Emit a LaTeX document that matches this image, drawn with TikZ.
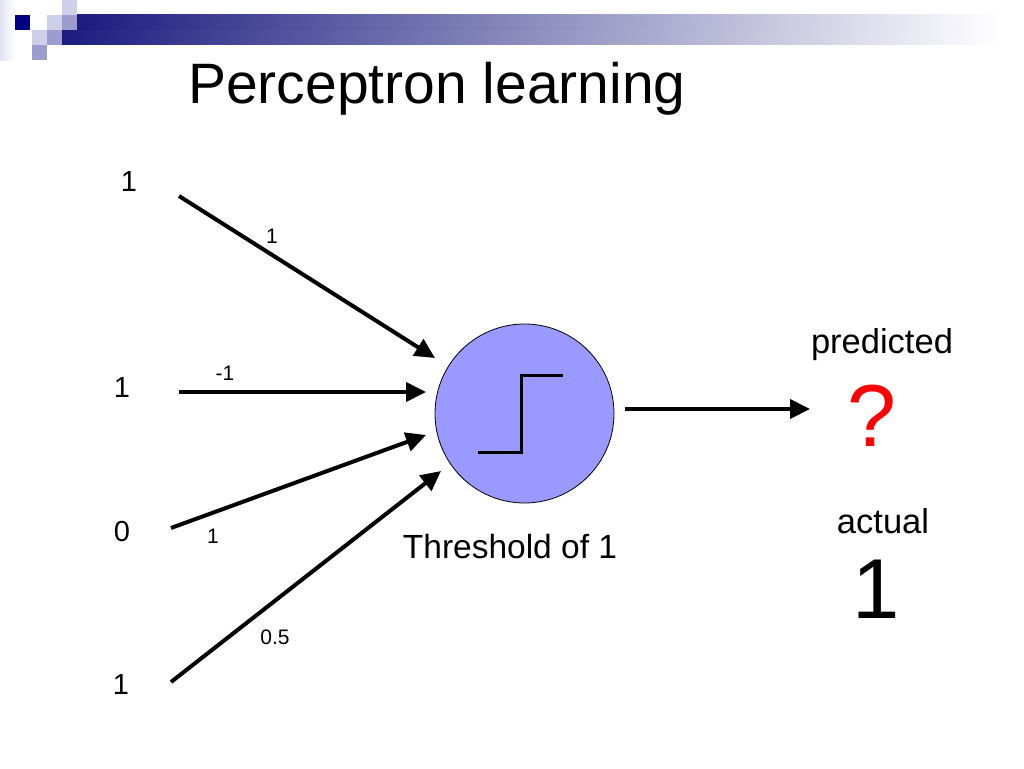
\documentclass[tikz,border=0pt]{standalone}
\usepackage{fontspec}
\setmainfont{Liberation Sans}
\usetikzlibrary{arrows.meta}
\definecolor{navy}{HTML}{1C1C80}
\definecolor{darksq}{HTML}{000080}
\definecolor{medsq}{HTML}{9C9CCE}
\definecolor{lightsq}{HTML}{CFCFEA}
\definecolor{neuron}{HTML}{9999FF}
\tikzset{
  txt/.style={inner sep=0pt, anchor=base},
  inlabel/.style={txt, font=\fontsize{29}{30}\selectfont},
  wlabel/.style={txt, font=\fontsize{21}{22}\selectfont},
  midlabel/.style={txt, font=\fontsize{34.5}{36}\selectfont},
  conn/.style={line width=4pt, -{Triangle[length=20pt,width=19pt]}},
}
\begin{document}
\begin{tikzpicture}[x=1pt,y=-1pt]
\useasboundingbox (0,0) rectangle (1024,768);
% header decoration
\shade[left color=lightsq!60, right color=white] (0,0) rectangle (15,60);
\shade[left color=navy, right color=white] (62,30) rectangle (1000,45);
\shade[left color=navy, right color=white] (77,15) rectangle (1000,30);
\fill[darksq] (15,15) rectangle (30,30);
\fill[lightsq] (32,30) rectangle (47,45);
\fill[medsq] (32,45) rectangle (47,60);
\fill[lightsq] (47,15) rectangle (62,30);
\fill[medsq] (47,30) rectangle (62,45);
\fill[lightsq] (62,0) rectangle (77,15);
\fill[medsq] (62,15) rectangle (77,30);
% title
\node[inner sep=0pt, anchor=base west, font=\fontsize{57}{58}\selectfont] (title) at (188,103) {Perceptron learning};
% neuron
\node[circle, draw=black, line width=0.8pt, fill=neuron, minimum size=179pt, inner sep=0pt] (neuron) at (524.5,413.5) {};
\draw[line width=3pt] (478,452) -- (521,452) -- (521,375) -- (563,375);
% inputs
\node[inlabel] (in1) at (129,191) {1};
\node[inlabel] (in2) at (122,397) {1};
\node[inlabel] (in3) at (122,541) {0};
\node[inlabel] (in4) at (121,694) {1};
% weights
\node[wlabel] (w1) at (272,243) {1};
\node[wlabel] (w2) at (225,380) {-1};
\node[wlabel] (w3) at (213,543) {1};
\node[wlabel] (w4) at (275,644) {0.5};
% connector ends
\coordinate (s1) at (179,196);
\coordinate (s2) at (179,392);
\coordinate (s3) at (171,528);
\coordinate (s4) at (171,682);
\coordinate (t1) at (435,358);
\coordinate (t2) at (426,392);
\coordinate (t3) at (426,435);
\coordinate (t4) at (441,471);
\draw[conn] (s1) -- (t1);
\draw[conn] (s2) -- (t2);
\draw[conn] (s3) -- (t3);
\draw[conn] (s4) -- (t4);
% output
\coordinate (o1) at (625,409);
\coordinate (o2) at (810,409);
\draw[conn] (o1) -- (o2);
\node[midlabel] (pred) at (882,353) {predicted};
\node[txt, font=\fontsize{88}{90}\selectfont, text=red] (q) at (872,446) {?};
\node[midlabel] (act) at (883,533) {actual};
\node[txt, font=\fontsize{85}{88}\selectfont] (actval) at (876,618) {1};
\node[txt, font=\fontsize{33.5}{35}\selectfont] (thr) at (510,558) {Threshold of 1};
\end{tikzpicture}
\end{document}
